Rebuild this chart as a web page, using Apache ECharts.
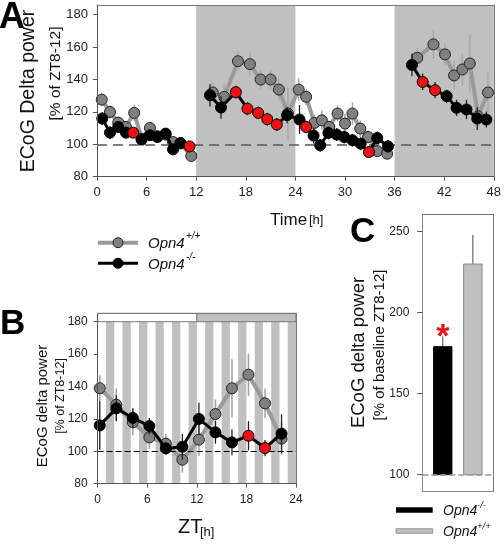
<!DOCTYPE html>
<html><head><meta charset="utf-8">
<script src="https://cdn.jsdelivr.net/npm/echarts@6/dist/echarts.min.js"></script>
<style>html,body{margin:0;padding:0;background:#fff}#c{width:504px;height:545px}</style>
</head><body><div id="c"></div>
<script>
// ---------------- Panel A data (48 h recording) ----------------
const aGrayT = [0.57,1.57,2.57,3.5,4.5,5.4,6.4,7.3,8.3,9.2,10.1,11.4,
  14.0,15.4,17.05,18.5,19.8,21.0,22.0,23.1,24.4,25.3,26.3,27.2,28.1,29.1,30.0,30.9,31.85,32.8,33.9,35.1,
  38.75,40.7,42.1,43.2,44.2,45.1,46.1,47.3];
const aGrayV = [127.6,120,113.4,110.7,119.4,103.5,110.1,105,106,101.4,100.5,92.8,
  132,129.3,151.3,149.5,140,140,133.8,119,133.8,129.3,113.2,114.8,110.7,119,112.8,119,109.7,104.5,95.8,94.2,
  153.4,161.7,155.5,142.5,146.2,149.9,117.3,132];
const aGrayE = [4,4,3,3,5,3,3,3,3,3,3,3,
  6,8,6,7,6,6,7,16,7,5,5,6,4,5,6,7,5,4,3,3,
  6,9,7,9,10,18,8,12];
const aBlackT = [0.64,1.57,2.57,3.5,4.38,5.39,6.4,7.3,8.3,9.2,10.1,11.2,
  13.67,15.0,16.8,18.2,19.5,20.6,21.75,23.0,24.5,25.3,26.2,27.0,28.0,29.0,29.9,30.9,31.9,32.9,33.9,35.2,
  38.1,39.4,40.9,42.3,43.5,44.7,46.0,47.1];
const aBlackV = [115.9,107.2,110.7,107.2,107.2,102.9,105.6,104.5,106.6,96.9,100.8,98.7,
  130.3,122.7,132.2,122,119.4,115.5,112.2,118,115.3,110.7,105.4,99.4,107,106,104.5,102.5,100.4,95.2,103.9,98.7,
  149,138.5,133.4,129.7,122.5,121.5,115.9,115.3];
const aBlackE = [4,4,3,3,3,3,3,3,3,3,3,3,
  7,7,4,4,4,4,4,5,9,4,5,4,4,4,4,4,4,3,4,4,
  7,5,5,4,5,6,7,5];
const aBlackRed = [4,11,14,15,16,17,18,21,29,33,34];   // significant points (red)
const aDark = [[12,24],[36,48]];                        // dark phases (h)
const aXMin = 0, aXMax = 48, aXStep = 6;
const aYTicks = [80,100,120,140,160,180];
const aYMin = 80, aYMax = 186;

// ---------------- Panel B data (ZT profile) ----------------
const bT = [0.25,2.25,4.25,6.25,8.25,10.25,12.25,14.25,16.25,18.25,20.25,22.25];
const bGrayV = [138.9,128.8,117.9,108.6,104.7,94.8,107.2,123,138.9,147.3,129.6,107.8];
const bGrayE = [8,10,8,7,6,8,10,9,18,13,9,10];
const bBlackV = [116,126.5,120.6,115.6,101.8,102.8,120,111.7,105.5,109.6,102,110.9];
const bBlackE = [15,8,6,5,4,8,10,7,8,9,5,12];
const bBlackRed = [9,10];
const bLight = [[0,12]], bDarkPh = [[12,24]];
const bYTicks = [80,100,120,140,160,180];
const bYMin = 80, bYMax = 185.2;

// ---------------- Panel C data ----------------
const cGroups = ['Opn4-/-','Opn4+/+'];
const cMean = [179,230];
const cErr = [6.5,18];
const cSig = [true,false];
const cYTicks = [100,150,200,250];
const cYMin = 89.5, cYMax = 260.7;

// ---------------- styles ----------------
const FONT = 'Liberation Sans, Arial, sans-serif';
const RED = '#ee1111';
const SHADE = '#c0c0c0';
const GRAYLINE = '#9a9a9a';
const GRAYDOT = '#808080';

function lineData(ts, vs, reds, gap) {
  const out = [];
  for (let i = 0; i < ts.length; i++) {
    if (gap && i > 0 && ts[i] - ts[i-1] > gap) out.push(['-','-']);
    if (reds && reds.indexOf(i) >= 0) out.push({value:[ts[i], vs[i]], itemStyle:{color:RED, borderColor:'#000', borderWidth:1}});
    else out.push([ts[i], vs[i]]);
  }
  return out;
}
function errData(ts, vs, es) { return ts.map((t,i)=>[t, vs[i], es[i]]); }
function errRender(color, width) {
  return function(params, api) {
    const x = api.value(0), y = api.value(1), e = api.value(2);
    const p1 = api.coord([x, y - e]), p2 = api.coord([x, y + e]);
    return {type:'line', shape:{x1:p1[0], y1:p1[1], x2:p2[0], y2:p2[1]}, style:{stroke:color, lineWidth:width}};
  };
}

function mainAxisX(grid, min, max, step, fs, margin) {
  return {type:'value', gridIndex:grid, min:min, max:max, interval:step, position:'bottom', z:10,
    axisLine:{onZero:false, lineStyle:{color:'#555', width:1}},
    axisTick:{length:4, lineStyle:{color:'#555'}},
    axisLabel:{fontFamily:FONT, fontSize:fs, color:'#222', margin:margin},
    splitLine:{show:false}};
}
function frameX(grid, min, max) {
  return {type:'value', gridIndex:grid, min:min, max:max, position:'top', z:10,
    axisLine:{onZero:false, lineStyle:{color:'#777', width:1}}, axisTick:{show:false}, axisLabel:{show:false}, splitLine:{show:false}};
}
function mainAxisY(grid, min, max, ticks, fs, margin, tl) {
  return {type:'value', gridIndex:grid, min:min, max:max, position:'left', z:10,
    axisLine:{show:true, onZero:false, lineStyle:{color:'#555', width:1}},
    axisTick:{show:true, length:tl, customValues:ticks, lineStyle:{color:'#555'}},
    axisLabel:{customValues:ticks, fontFamily:FONT, fontSize:fs, color:'#222', margin:margin},
    splitLine:{show:false}};
}
function frameY(grid, min, max) {
  return {type:'value', gridIndex:grid, min:min, max:max, position:'right', z:10,
    axisLine:{show:true, onZero:false, lineStyle:{color:'#777', width:1}}, axisTick:{show:false}, axisLabel:{show:false}, splitLine:{show:false}};
}

// stripes of panel B: 1-h grey bands at odd hours
const bStripes = [];
for (let h = 1; h < 24; h += 2) bStripes.push([{xAxis:h, yAxis:bYMin},{xAxis:h+1, yAxis:180}]);
const bBars = bLight.map(p=>[{xAxis:p[0], yAxis:180, itemStyle:{color:'#fff', borderColor:'#777', borderWidth:1}},{xAxis:p[1], yAxis:bYMax}])
  .concat(bDarkPh.map(p=>[{xAxis:p[0], yAxis:180, itemStyle:{color:SHADE, borderColor:'#777', borderWidth:1}},{xAxis:p[1], yAxis:bYMax}]));

const grayLine = {lineStyle:{color:GRAYLINE, width:4}, itemStyle:{color:GRAYDOT, borderColor:'#222', borderWidth:1}};
const blackLine = {lineStyle:{color:'#000', width:3}, itemStyle:{color:'#000', borderColor:'#000', borderWidth:1}};

const chart = echarts.init(document.getElementById('c'));
chart.setOption({
  animation:false,
  backgroundColor:'#fff',
  grid:[
    {left:97, top:5, width:397, height:171.7},
    {left:97.7, top:313.3, width:198.3, height:170.4},
    {left:422.3, top:214.3, width:71, height:277.4}
  ],
  xAxis:[
    mainAxisX(0, aXMin, aXMax, aXStep, 13, 9), frameX(0, aXMin, aXMax),
    mainAxisX(1, 0, 24, 6, 12, 10), frameX(1, 0, 24),
    {type:'value', gridIndex:2, min:-0.68, max:1.68, z:10, axisLine:{onZero:false, lineStyle:{color:'#888'}}, axisTick:{show:false}, axisLabel:{show:false}, splitLine:{show:false}},
    frameX(2, -0.68, 1.68)
  ],
  yAxis:[
    mainAxisY(0, aYMin, aYMax, aYTicks, 13, 9, 4), frameY(0, aYMin, aYMax),
    mainAxisY(1, bYMin, bYMax, bYTicks, 12, 10, 4), frameY(1, bYMin, bYMax),
    Object.assign(mainAxisY(2, cYMin, cYMax, cYTicks, 12, 13, 5), {axisLine:{show:true,onZero:false,lineStyle:{color:'#888'}}}),
    frameY(2, cYMin, cYMax)
  ],
  series:[
    // ---- A background ----
    {type:'line', xAxisIndex:0, yAxisIndex:0, data:[], z:1, silent:true,
      markArea:{silent:true, label:{show:false}, itemStyle:{color:SHADE}, data:aDark.map(p=>[{xAxis:p[0]},{xAxis:p[1]}])},
      markLine:{silent:true, symbol:['none','none'], label:{show:false}, lineStyle:{type:[10,6], color:'#555', width:1.5}, data:[{yAxis:100}]}},
    {type:'custom', xAxisIndex:0, yAxisIndex:0, z:2, data:errData(aGrayT,aGrayV,aGrayE), renderItem:errRender('#a8a8a8',1.5)},
    Object.assign({type:'line', xAxisIndex:0, yAxisIndex:0, z:3, symbol:'circle', symbolSize:11, connectNulls:false,
      data:lineData(aGrayT,aGrayV,null,2.2)}, grayLine),
    {type:'custom', xAxisIndex:0, yAxisIndex:0, z:4, data:errData(aBlackT,aBlackV,aBlackE), renderItem:errRender('#222',1.3)},
    Object.assign({type:'line', xAxisIndex:0, yAxisIndex:0, z:5, symbol:'circle', symbolSize:11, connectNulls:false,
      data:lineData(aBlackT,aBlackV,aBlackRed,2.2)}, blackLine),
    // ---- B ----
    {type:'line', xAxisIndex:2, yAxisIndex:2, data:[], z:1, silent:true,
      markArea:{silent:true, label:{show:false}, itemStyle:{color:SHADE}, data:bStripes.concat(bBars)},
      markLine:{silent:true, symbol:['none','none'], label:{show:false}, lineStyle:{type:[6,3], color:'#000', width:1}, data:[{yAxis:100}]}},
    {type:'custom', xAxisIndex:2, yAxisIndex:2, z:2, data:errData(bT,bGrayV,bGrayE), renderItem:errRender('#a0a0a0',1.5)},
    Object.assign({type:'line', xAxisIndex:2, yAxisIndex:2, z:3, symbol:'circle', symbolSize:11, data:lineData(bT,bGrayV,null,0)}, grayLine),
    {type:'custom', xAxisIndex:2, yAxisIndex:2, z:4, data:errData(bT,bBlackV,bBlackE), renderItem:errRender('#222',1.3)},
    Object.assign({type:'line', xAxisIndex:2, yAxisIndex:2, z:5, symbol:'circle', symbolSize:11, data:lineData(bT,bBlackV,bBlackRed,0)}, blackLine),
    // ---- C ----
    {type:'line', xAxisIndex:4, yAxisIndex:4, data:[], z:1, silent:true,
      markLine:{silent:true, symbol:['none','none'], label:{show:false}, lineStyle:{type:[6,3], color:'#999', width:1.5}, data:[{yAxis:100}]}},
    {type:'custom', xAxisIndex:4, yAxisIndex:4, z:3,
      data:cMean.map((m,i)=>[i, m, cErr[i]]),
      renderItem:function(params, api){
        const i = params.dataIndex;
        const x = api.value(0), y = api.value(1), e = api.value(2);
        const w = api.size([1,0])[0] * 0.61;
        const pBase = api.coord([x, 100]), pTop = api.coord([x, y]), pErr = api.coord([x, y + e]);
        const children = [
          {type:'line', shape:{x1:pTop[0], y1:pTop[1], x2:pErr[0], y2:pErr[1]}, style:{stroke:'#666', lineWidth:1.2}},
          {type:'rect', shape:{x:pBase[0]-w/2, y:pTop[1], width:w, height:pBase[1]-pTop[1]},
            style:i===0 ? {fill:'#000', stroke:'#000', lineWidth:1} : {fill:'#c0c0c0', stroke:'#888', lineWidth:1}}
        ];
        if (cSig[i]) children.push({type:'text', style:{text:'*', x:pErr[0], y:pErr[1]+1, fill:RED,
          font:'bold 34px Liberation Sans', textAlign:'center', textVerticalAlign:'middle'}});
        return {type:'group', children:children};
      }}
  ],
  graphic:[
    // panel letters
    {type:'text', x:-1, y:18.5, style:{text:'A', font:'bold 36px Liberation Sans', fill:'#000', textVerticalAlign:'middle'}},
    {type:'text', x:0, y:324, style:{text:'B', font:'bold 35px Liberation Sans', fill:'#000', textVerticalAlign:'middle'}},
    {type:'text', x:350, y:232.5, style:{text:'C', font:'bold 35px Liberation Sans', fill:'#000', textVerticalAlign:'middle'}},
    // A axis titles
    {type:'text', x:29, y:91, rotation:Math.PI/2, style:{text:'ECoG Delta power', font:'19.5px Liberation Sans', fill:'#111', textAlign:'center', textVerticalAlign:'middle'}},
    {type:'text', x:56, y:73.5, rotation:Math.PI/2, style:{text:'[% of ZT8-12]', font:'15.5px Liberation Sans', fill:'#111', textAlign:'center', textVerticalAlign:'middle'}},
    {type:'text', x:270, y:220, style:{text:'Time', font:'17px Liberation Sans', fill:'#111', textVerticalAlign:'middle'}},
    {type:'text', x:309, y:220.5, style:{text:'[h]', font:'13px Liberation Sans', fill:'#111', textVerticalAlign:'middle'}},
    // middle legend
    {type:'line', shape:{x1:98, y1:242.7, x2:138, y2:242.7}, style:{stroke:GRAYLINE, lineWidth:4}},
    {type:'circle', shape:{cx:118, cy:242.7, r:5}, style:{fill:GRAYDOT, stroke:'#222', lineWidth:1}},
    {type:'text', x:148, y:244, style:{text:'Opn4', font:'italic 15px Liberation Sans', fill:'#111', textVerticalAlign:'middle'}},
    {type:'text', x:186, y:236, style:{text:'+/+', font:'italic 10px Liberation Sans', fill:'#111', textVerticalAlign:'middle'}},
    {type:'line', shape:{x1:98, y1:263.3, x2:138, y2:263.3}, style:{stroke:'#000', lineWidth:3}},
    {type:'circle', shape:{cx:118, cy:263.3, r:5}, style:{fill:'#000', stroke:'#000', lineWidth:1}},
    {type:'text', x:148, y:264.5, style:{text:'Opn4', font:'italic 15px Liberation Sans', fill:'#111', textVerticalAlign:'middle'}},
    {type:'text', x:186, y:257, style:{text:'-/-', font:'italic 10px Liberation Sans', fill:'#111', textVerticalAlign:'middle'}},
    // B axis titles
    {type:'text', x:42.5, y:406, rotation:Math.PI/2, style:{text:'ECoG delta power', font:'15px Liberation Sans', fill:'#111', textAlign:'center', textVerticalAlign:'middle'}},
    {type:'text', x:61, y:396, rotation:Math.PI/2, style:{text:'[% of ZT8-12]', font:'12.5px Liberation Sans', fill:'#111', textAlign:'center', textVerticalAlign:'middle'}},
    {type:'text', x:178, y:527, style:{text:'ZT', font:'20px Liberation Sans', fill:'#111', textVerticalAlign:'middle'}},
    {type:'text', x:200, y:532, style:{text:'[h]', font:'13px Liberation Sans', fill:'#111', textVerticalAlign:'middle'}},
    // C axis titles
    {type:'text', x:359, y:352.5, rotation:Math.PI/2, style:{text:'ECoG delta power', font:'18.5px Liberation Sans', fill:'#111', textAlign:'center', textVerticalAlign:'middle'}},
    {type:'text', x:380, y:345, rotation:Math.PI/2, style:{text:'[% of baseline ZT8-12]', font:'15px Liberation Sans', fill:'#111', textAlign:'center', textVerticalAlign:'middle'}},
    // C legend
    {type:'rect', shape:{x:396, y:507.3, width:36.7, height:5.4}, style:{fill:'#000'}},
    {type:'text', x:443, y:511.5, style:{text:'Opn4', font:'italic 14px Liberation Sans', fill:'#111', textVerticalAlign:'middle'}},
    {type:'text', x:477, y:505, style:{text:'-/-', font:'italic 9.5px Liberation Sans', fill:'#111', textVerticalAlign:'middle'}},
    {type:'rect', shape:{x:396, y:528.7, width:36.7, height:4.6}, style:{fill:'#c0c0c0', stroke:'#999', lineWidth:1}},
    {type:'text', x:443, y:532.5, style:{text:'Opn4', font:'italic 14px Liberation Sans', fill:'#111', textVerticalAlign:'middle'}},
    {type:'text', x:477, y:526, style:{text:'+/+', font:'italic 9.5px Liberation Sans', fill:'#111', textVerticalAlign:'middle'}}
  ]
});
</script></body></html>
